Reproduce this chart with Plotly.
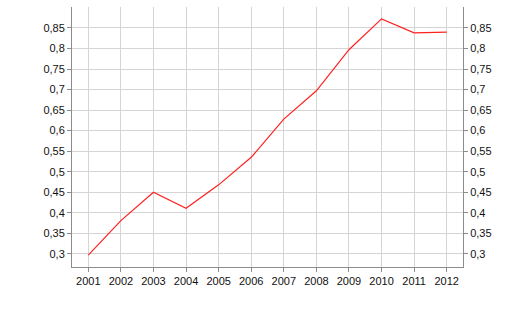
import plotly.graph_objects as go

years = ["2001", "2002", "2003", "2004", "2005", "2006", "2007", "2008", "2009", "2010", "2011", "2012"]
values = [0.297, 0.381, 0.450, 0.411, 0.468, 0.535, 0.628, 0.697, 0.797, 0.872, 0.838, 0.840]
y_tick_vals = [0.3, 0.35, 0.4, 0.45, 0.5, 0.55, 0.6, 0.65, 0.7, 0.75, 0.8, 0.85]
y_tick_text = ["0,3", "0,35", "0,4", "0,45", "0,5", "0,55", "0,6", "0,65", "0,7", "0,75", "0,8", "0,85"]

axis_color = "#8c8c8c"
grid_color = "#d4d4d4"
font = dict(family="Arial, Liberation Sans, sans-serif", size=11, color="#111111")

fig = go.Figure()
fig.add_trace(go.Scatter(x=years, y=values, mode="lines",
                         line=dict(color="#ff2020", width=1.2), showlegend=False,
                         hoverinfo="skip"))
fig.add_trace(go.Scatter(x=years, y=values, mode="lines", yaxis="y2",
                         line=dict(color="rgba(0,0,0,0)", width=0), showlegend=False,
                         hoverinfo="skip"))

yrange = [0.268, 0.901]
common_y = dict(range=yrange, tickvals=y_tick_vals, ticktext=y_tick_text,
                showline=True, linecolor=axis_color, linewidth=1,
                ticks="outside", ticklen=4, tickcolor=axis_color, tickfont=font,
                zeroline=False)

fig.update_layout(
    width=514, height=310,
    margin=dict(l=72, r=51, t=7, b=43),
    paper_bgcolor="white", plot_bgcolor="white",
    font=font,
    xaxis=dict(type="category", range=[-0.5, 11.5], showline=True, linecolor=axis_color,
               linewidth=1, ticks="outside", ticklen=4, tickcolor=axis_color,
               showgrid=True, gridcolor=grid_color, gridwidth=1, tickfont=font,
               zeroline=False),
    yaxis=dict(**common_y, showgrid=True, gridcolor=grid_color, gridwidth=1, side="left"),
    yaxis2=dict(**common_y, showgrid=False, side="right", overlaying="y"),
)

fig.write_html("out.html")
